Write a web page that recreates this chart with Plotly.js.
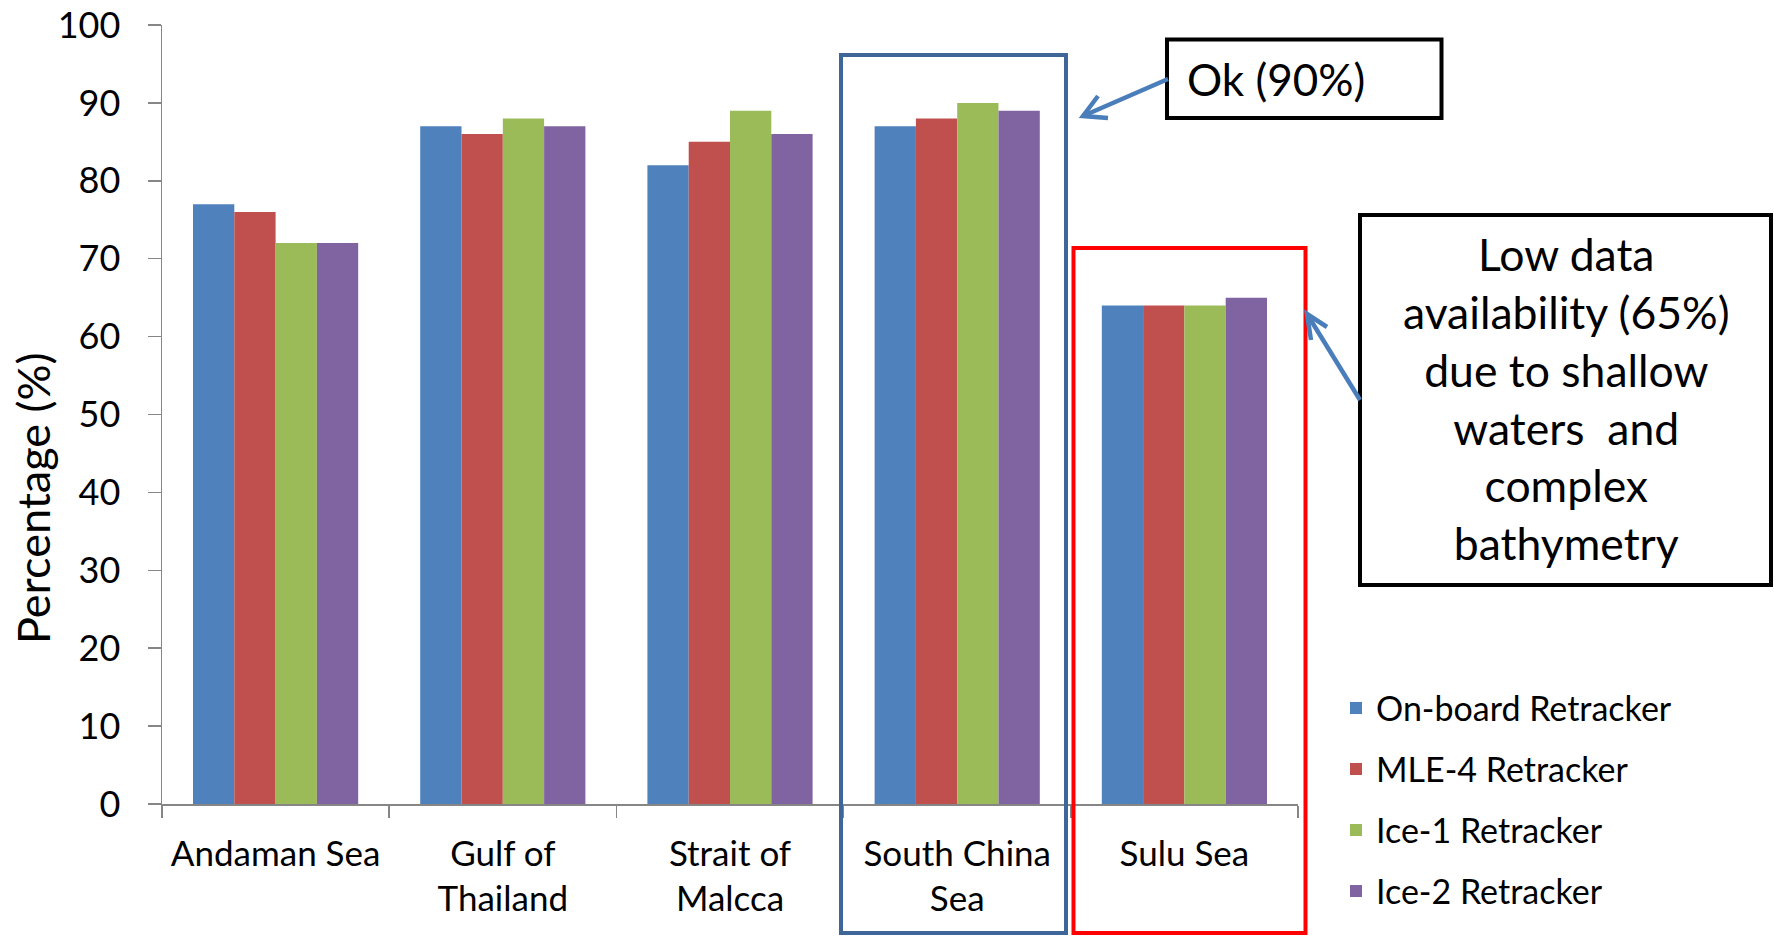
<!DOCTYPE html>
<html><head><meta charset="utf-8">
<script src="https://cdn.plot.ly/plotly-3.0.1.min.js"></script>
<style>html,body{margin:0;padding:0;background:#fff;} #chart{width:1774px;height:936px;}</style>
</head><body><div id="chart"></div>
<script>
const categories = ['Andaman Sea', 'Gulf of<br>Thailand', 'Strait of<br>Malcca', 'South China<br>Sea', 'Sulu Sea'];
const seriesNames = ['On-board Retracker', 'MLE-4 Retracker', 'Ice-1 Retracker', 'Ice-2 Retracker'];
const onboard = [77, 87, 82, 87, 64];
const mle4    = [76, 86, 85, 88, 64];
const ice1    = [72, 88, 89, 90, 64];
const ice2    = [72, 87, 86, 89, 65];
const colors = ['#4F81BD', '#C0504D', '#9BBB59', '#8064A2'];
const yTickVals = [0, 10, 20, 30, 40, 50, 60, 70, 80, 90, 100];
const yTitle = 'Percentage (%)';
const okText = 'Ok (90%)';
const lowText = 'Low data<br>availability (65%)<br>due to shallow<br>waters &nbsp;and<br>complex<br>bathymetry';

const W = 1774, H = 936, L = 162, R = 1298, T = 25, B = 804;
const px = v => (v - L) / (R - L);
const py = v => (B - v) / (B - T);
const FONT = 'Lato, "Open Sans", sans-serif';

const seriesValues = [onboard, mle4, ice1, ice2];
const traces = seriesValues.map((vals, i) => ({
  type: 'bar', name: seriesNames[i], x: categories, y: vals,
  marker: {color: colors[i], line: {width: 0}},
  legendgroup: 'g' + i, hoverinfo: 'y'
}));

const shapes = [
  {type: 'rect', xref: 'paper', yref: 'paper', x0: px(841), x1: px(1066), y0: py(55), y1: py(933),
   line: {color: '#3F6699', width: 4}},
  {type: 'rect', xref: 'paper', yref: 'paper', x0: px(1073.5), x1: px(1305.5), y0: py(248), y1: py(933),
   line: {color: '#FF0000', width: 4}},
  {type: 'rect', xref: 'paper', yref: 'paper', x0: px(1167), x1: px(1441.5), y0: py(39.5), y1: py(118),
   line: {color: '#000000', width: 4}, fillcolor: '#ffffff'},
  {type: 'rect', xref: 'paper', yref: 'paper', x0: px(1360), x1: px(1771), y0: py(215), y1: py(585),
   line: {color: '#000000', width: 4}, fillcolor: '#ffffff'},
  // arrow 1
  {type: 'path', xref: 'paper', yref: 'paper',
   path: `M${px(1168)},${py(79)} L${px(1083)},${py(116)}`, line: {color: '#4A7EBB', width: 4.5}},
  {type: 'path', xref: 'paper', yref: 'paper',
   path: `M${px(1098)},${py(96)} L${px(1083)},${py(116)} L${px(1108)},${py(118)}`, line: {color: '#4A7EBB', width: 4.5}},
  // arrow 2
  {type: 'path', xref: 'paper', yref: 'paper',
   path: `M${px(1360)},${py(400)} L${px(1307)},${py(314)}`, line: {color: '#4A7EBB', width: 4.5}},
  {type: 'path', xref: 'paper', yref: 'paper',
   path: `M${px(1327)},${py(327)} L${px(1307)},${py(314)} L${px(1311)},${py(340)}`, line: {color: '#4A7EBB', width: 4.5}}
];

const annotations = [
  {xref: 'paper', yref: 'paper', x: px(33), y: py(498), text: yTitle, textangle: -90, showarrow: false,
   xanchor: 'center', yanchor: 'middle', font: {family: FONT, size: 45, color: '#000'}},
  {xref: 'paper', yref: 'paper', x: px(1185), y: py(79), text: okText, showarrow: false,
   xanchor: 'left', yanchor: 'middle', font: {family: FONT, size: 44, color: '#000'}},
  {xref: 'paper', yref: 'paper', x: px(1566), y: py(397.5), text: lowText, showarrow: false, align: 'center',
   xanchor: 'center', yanchor: 'middle', font: {family: FONT, size: 44.5, color: '#000'}}
];

const layout = {
  width: W, height: H, autosize: false,
  margin: {l: L, r: W - R, t: T, b: H - B, pad: 0},
  paper_bgcolor: '#fff', plot_bgcolor: '#fff',
  font: {family: FONT, size: 34, color: '#000'},
  barmode: 'group', bargap: 0.273, bargroupgap: 0,
  showlegend: true,
  legend: {x: px(1336), y: py(679.5), xanchor: 'left', yanchor: 'top', traceorder: 'grouped',
    tracegroupgap: 13.8, font: {family: FONT, size: 34, color: '#000'}, bgcolor: 'rgba(0,0,0,0)'},
  xaxis: {type: 'category', showgrid: false, zeroline: false, showline: true, linecolor: '#868686', linewidth: 1.5,
    ticks: 'outside', tickson: 'boundaries', ticklen: 12, tickcolor: '#868686', tickwidth: 1.5,
    tickfont: {family: FONT, size: 35, color: '#000'}, ticklabelstandoff: 18, fixedrange: true},
  yaxis: {range: [0, 100], tickvals: yTickVals, showgrid: false, zeroline: false, showline: true,
    linecolor: '#868686', linewidth: 1.5, ticks: 'outside', ticklen: 13, tickcolor: '#868686', tickwidth: 1.5,
    tickfont: {family: FONT, size: 36, color: '#000'}, ticklabelstandoff: 20, fixedrange: true},
  shapes: shapes, annotations: annotations
};

Plotly.newPlot('chart', traces, layout, {displayModeBar: false, staticPlot: true});
</script></body></html>
